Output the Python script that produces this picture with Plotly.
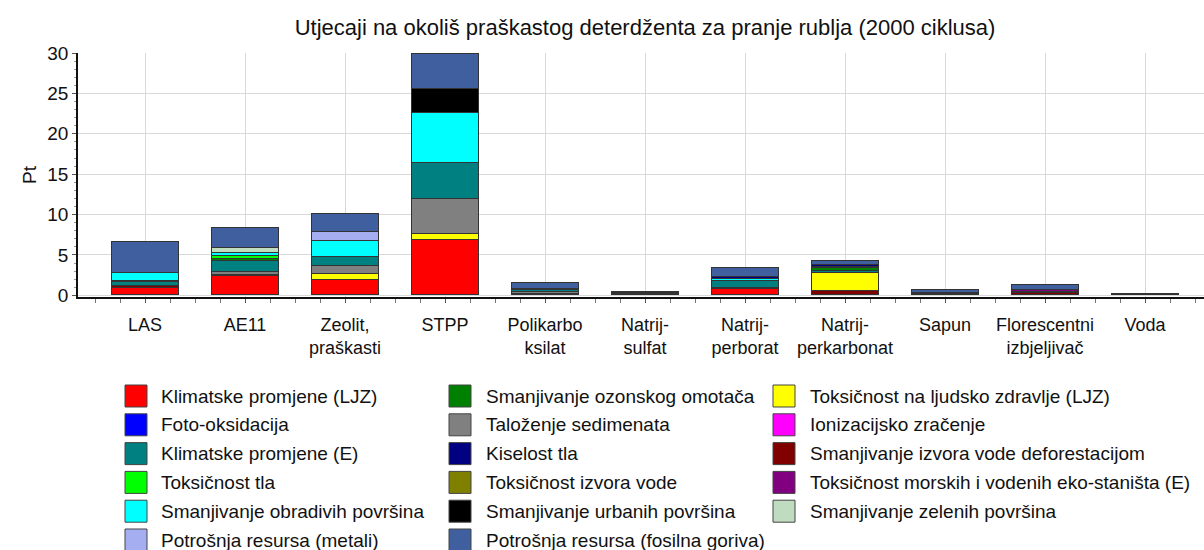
import plotly.graph_objects as go

# Products (x categories)
products = ["LAS", "AE11", "Zeolit,<br>praškasti", "STPP", "Polikarbo<br>ksilat",
            "Natrij-<br>sulfat", "Natrij-<br>perborat", "Natrij-<br>perkarbonat",
            "Sapun", "Florescentni<br>izbjeljivač", "Voda"]

# Impact categories in legend order (three columns)
legend_col1 = ["Klimatske promjene (LJZ)", "Foto-oksidacija", "Klimatske promjene (E)",
               "Toksičnost tla", "Smanjivanje obradivih površina", "Potrošnja resursa (metali)"]
legend_col2 = ["Smanjivanje ozonskog omotača", "Taloženje sedimenata", "Kiselost tla",
               "Toksičnost izvora vode", "Smanjivanje urbanih površina",
               "Potrošnja resursa (fosilna goriva)"]
legend_col3 = ["Toksičnost na ljudsko zdravlje (LJZ)", "Ionizacijsko zračenje",
               "Smanjivanje izvora vode deforestacijom",
               "Toksičnost morskih i vodenih eko-staništa (E)", "Smanjivanje zelenih površina"]

colors = {
    "Klimatske promjene (LJZ)": "#ff0000",
    "Foto-oksidacija": "#0000ff",
    "Klimatske promjene (E)": "#008080",
    "Toksičnost tla": "#00ff00",
    "Smanjivanje obradivih površina": "#00ffff",
    "Potrošnja resursa (metali)": "#a6aef2",
    "Smanjivanje ozonskog omotača": "#008000",
    "Taloženje sedimenata": "#808080",
    "Kiselost tla": "#000080",
    "Toksičnost izvora vode": "#808000",
    "Smanjivanje urbanih površina": "#000000",
    "Potrošnja resursa (fosilna goriva)": "#3f5f9f",
    "Toksičnost na ljudsko zdravlje (LJZ)": "#ffff00",
    "Ionizacijsko zračenje": "#ff00ff",
    "Smanjivanje izvora vode deforestacijom": "#800000",
    "Toksičnost morskih i vodenih eko-staništa (E)": "#800080",
    "Smanjivanje zelenih površina": "#c0dcc0",
}

# Values (Pt) per product, one list per impact category
klimatske_ljz   = [0.90, 2.35, 1.85, 6.90, 0.00, 0.00, 0.80, 0.00, 0.00, 0.00, 0.00]
deforestacija   = [0.30, 0.15, 0.00, 0.00, 0.20, 0.00, 0.10, 0.50, 0.00, 0.25, 0.00]
toks_ljz        = [0.00, 0.00, 0.85, 0.75, 0.00, 0.00, 0.00, 2.25, 0.00, 0.00, 0.00]
talozenje       = [0.00, 0.40, 0.90, 4.30, 0.22, 0.12, 0.00, 0.00, 0.00, 0.00, 0.00]
klimatske_e     = [0.40, 1.35, 1.15, 4.40, 0.20, 0.00, 0.82, 0.30, 0.15, 0.00, 0.00]
ozon            = [0.20, 0.20, 0.00, 0.00, 0.00, 0.00, 0.00, 0.30, 0.15, 0.00, 0.00]
toks_tla        = [0.00, 0.40, 0.00, 0.00, 0.00, 0.00, 0.00, 0.00, 0.00, 0.00, 0.00]
obradive        = [0.92, 0.35, 1.95, 6.25, 0.00, 0.00, 0.30, 0.15, 0.00, 0.00, 0.00]
zelene          = [0.00, 0.70, 0.00, 0.00, 0.00, 0.00, 0.00, 0.00, 0.00, 0.00, 0.00]
metali          = [0.00, 0.00, 1.10, 0.00, 0.17, 0.15, 0.00, 0.00, 0.00, 0.00, 0.07]
urbane          = [0.00, 0.00, 0.00, 2.90, 0.00, 0.00, 0.00, 0.00, 0.00, 0.00, 0.00]
kiselost        = [0.00, 0.00, 0.00, 0.00, 0.00, 0.00, 0.30, 0.25, 0.00, 0.20, 0.00]
toks_more       = [0.00, 0.00, 0.00, 0.00, 0.00, 0.00, 0.00, 0.00, 0.00, 0.25, 0.00]
toks_voda       = [0.00, 0.00, 0.00, 0.00, 0.00, 0.00, 0.00, 0.00, 0.00, 0.00, 0.00]
foto            = [0.00, 0.00, 0.00, 0.00, 0.00, 0.00, 0.00, 0.00, 0.00, 0.00, 0.00]
ionizacija      = [0.00, 0.00, 0.00, 0.00, 0.00, 0.00, 0.00, 0.00, 0.00, 0.00, 0.00]
fosilna         = [3.83, 2.40, 2.30, 4.40, 0.74, 0.15, 1.07, 0.55, 0.40, 0.62, 0.10]

y_ticks = [0, 5, 10, 15, 20, 25, 30]

# Stacking order, bottom to top
stack = [
    ("Klimatske promjene (LJZ)", klimatske_ljz),
    ("Smanjivanje izvora vode deforestacijom", deforestacija),
    ("Toksičnost na ljudsko zdravlje (LJZ)", toks_ljz),
    ("Taloženje sedimenata", talozenje),
    ("Klimatske promjene (E)", klimatske_e),
    ("Smanjivanje ozonskog omotača", ozon),
    ("Toksičnost tla", toks_tla),
    ("Smanjivanje obradivih površina", obradive),
    ("Smanjivanje zelenih površina", zelene),
    ("Potrošnja resursa (metali)", metali),
    ("Smanjivanje urbanih površina", urbane),
    ("Kiselost tla", kiselost),
    ("Toksičnost morskih i vodenih eko-staništa (E)", toks_more),
    ("Toksičnost izvora vode", toks_voda),
    ("Foto-oksidacija", foto),
    ("Ionizacijsko zračenje", ionizacija),
    ("Potrošnja resursa (fosilna goriva)", fosilna),
]

FONT = "Liberation Sans, Arial, sans-serif"
W, H = 1204, 550
L, R, T, B = 78, 0, 53, 253

fig = go.Figure()
xs = list(range(len(products)))
for name, vals in stack:
    fig.add_trace(go.Bar(
        x=xs, y=vals, name=name, width=0.67,
        marker=dict(color=colors[name], line=dict(color="#333333", width=1)),
        showlegend=False,
    ))

# Custom legend: square swatches with labels, three columns
plot_w = W - L - R
plot_h = H - T - B


def px_x(px):
    return (px - L) / plot_w


def px_y(py):
    return (H - B - py) / plot_h


shapes = []
annotations = []
col_pos = [(125, 159), (449, 484), (773, 808)]
row0, row_step, sw = 396, 28.8, 22
for (sx, tx), items in zip(col_pos, [legend_col1, legend_col2, legend_col3]):
    for i, name in enumerate(items):
        cy = row0 + i * row_step
        shapes.append(dict(
            type="rect", xref="paper", yref="paper",
            x0=px_x(sx), x1=px_x(sx + sw), y0=px_y(cy - sw / 2), y1=px_y(cy + sw / 2),
            fillcolor=colors[name], line=dict(color="#444444", width=1),
        ))
        annotations.append(dict(
            xref="paper", yref="paper", x=px_x(tx), y=px_y(cy),
            xanchor="left", yanchor="middle", text=name, showarrow=False,
            font=dict(family=FONT, size=19, color="#111111"),
        ))

fig.update_layout(
    width=W, height=H,
    margin=dict(l=L, r=R, t=T, b=B, pad=0),
    barmode="stack",
    paper_bgcolor="white", plot_bgcolor="white",
    font=dict(family=FONT, size=18, color="#111111"),
    title=dict(text="Utjecaji na okoliš praškastog deterdženta za pranje rublja (2000 ciklusa)",
               x=(645 / W), xanchor="center", y=1 - 27 / H, yanchor="middle",
               font=dict(family=FONT, size=22, color="#111111")),
    shapes=shapes,
    annotations=annotations,
    bargap=0,
)
fig.update_xaxes(
    range=[-0.67, 10.59], tickvals=xs, ticktext=products,
    showgrid=True, gridcolor="#d9d9d9", gridwidth=1,
    showline=True, linecolor="#111111", linewidth=2,
    ticks="outside", ticklen=4, tickcolor="#555555",
    minor=dict(dtick=0.25, tick0=0, ticks="outside", ticklen=4, tickcolor="#777777", showgrid=False),
    tickfont=dict(family=FONT, size=18, color="#111111"),
    ticklabelstandoff=6,
    zeroline=False,
)
fig.update_yaxes(
    range=[-0.2, 30], tickvals=y_ticks,
    showgrid=True, gridcolor="#d9d9d9", gridwidth=1,
    showline=True, linecolor="#111111", linewidth=1.5,
    ticks="outside", ticklen=4, tickcolor="#555555",
    minor=dict(dtick=1, tick0=0, ticks="outside", ticklen=2, tickcolor="#999999", showgrid=False),
    tickfont=dict(family=FONT, size=19, color="#111111"),
    title=dict(text="Pt", font=dict(family=FONT, size=19, color="#111111"), standoff=6),
    zeroline=False,
)

fig.write_html("out.html")
